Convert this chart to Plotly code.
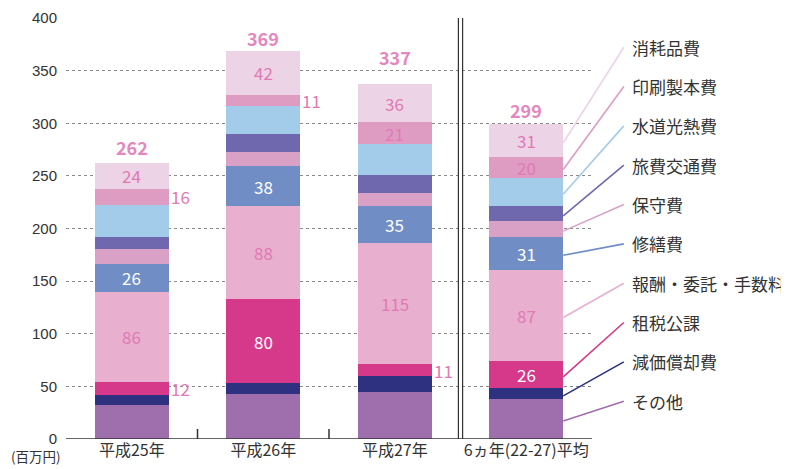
import plotly.graph_objects as go

categories = ["平成25年", "平成26年", "平成27年", "6ヵ年(22-27)平均"]
series_names = ["その他", "減価償却費", "租税公課", "報酬・委託・手数料", "修繕費",
                "保守費", "旅費交通費", "水道光熱費", "印刷製本費", "消耗品費"]
sonota = [32, 43, 45, 38]
genka = [10, 10, 15, 10]
sozei = [12, 80, 11, 26]
hoshu_itaku = [86, 88, 115, 87]
shuzen = [26, 38, 35, 31]
hoshu = [15, 14, 13, 15]
ryohi = [11, 17, 17, 14]
suido = [30, 26, 29, 27]
insatsu = [16, 11, 21, 20]
shomo = [24, 42, 36, 31]
totals = [262, 369, 337, 299]
y_ticks = [0, 50, 100, 150, 200, 250, 300, 350, 400]
unit_label = "(百万円)"

series_values = [sonota, genka, sozei, hoshu_itaku, shuzen, hoshu, ryohi, suido, insatsu, shomo]
colors = ["#9F6EAC", "#2E3180", "#D6398A", "#E8AFCF", "#718DC5",
          "#D9A1C6", "#7068AE", "#A3CBEA", "#DE9CC3", "#EDD3E6"]
label_color = {2: "white", 3: "#E07AB4", 4: "white", 8: "#E07AB4", 9: "#E07AB4"}
PINK = "#E07AB4"
TOTAL_PINK = "#E388BE"
JP = "Noto Sans CJK JP"

xs = list(range(len(categories)))
BW = 0.5625
X_MIN, X_MAX = -0.5, 3.5
Y_MAX = 400

fig = go.Figure()
for name, vals, col in zip(series_names, series_values, colors):
    fig.add_trace(go.Bar(x=xs, y=vals, name=name, marker=dict(color=col, line=dict(width=0)),
                         width=BW, showlegend=False))

annotations = []
shapes = []
bases = [[0] * len(xs)]
for vals in series_values:
    prev = bases[-1]
    bases.append([p + v for p, v in zip(prev, vals)])

for si, vals in enumerate(series_values):
    if si not in label_color:
        continue
    for i, v in enumerate(vals):
        mid = bases[si][i] + v / 2
        if v < 18:
            annotations.append(dict(x=i + BW / 2, y=mid, text=str(v), showarrow=False,
                                    xanchor="left", yanchor="middle", xshift=0,
                                    font=dict(family=JP, size=17, color=PINK)))
        else:
            annotations.append(dict(x=i, y=mid, text=str(v), showarrow=False,
                                    xanchor="center", yanchor="middle",
                                    font=dict(family=JP, size=17, color=label_color[si])))

total_shift = [16, 13, 27, 14]
for i, t in enumerate(totals):
    annotations.append(dict(x=i, y=t, text="<b>%d</b>" % t, showarrow=False,
                            xanchor="center", yanchor="middle", yshift=total_shift[i],
                            font=dict(family=JP, size=18, color=TOTAL_PINK)))


def px(xd):
    return (xd - X_MIN) / (X_MAX - X_MIN)


last = len(xs) - 1
leg_top = 0.9305
leg_step = 0.0934
for k, si in enumerate(reversed(range(len(series_names)))):
    ly = leg_top - k * leg_step
    annotations.append(dict(xref="paper", yref="paper", x=1.072, y=ly,
                            text=series_names[si], showarrow=False,
                            xanchor="left", yanchor="middle",
                            font=dict(family=JP, size=17, color="#333333")))
    mid = (bases[si][last] + series_values[si][last] / 2 - 2) / Y_MAX
    shapes.append(dict(type="line", xref="paper", yref="paper", x0=px(last + BW / 2), y0=mid,
                       x1=1.0605, y1=ly, line=dict(color=colors[si], width=1.6)))

annotations.append(dict(xref="paper", yref="paper", x=-0.057, y=0, yshift=-17,
                        text=unit_label, showarrow=False, xanchor="center", yanchor="middle",
                        font=dict(family=JP, size=13.5, color="#333333")))

for b in [0.5, 1.5]:
    shapes.append(dict(type="line", xref="x", yref="y", x0=b, x1=b, y0=0, y1=9.5,
                       line=dict(color="#333333", width=1.5)))
for dx in [-0.016, 0.016]:
    shapes.append(dict(type="line", xref="x", yref="y", x0=2.5 + dx, x1=2.5 + dx, y0=0, y1=403,
                       line=dict(color="#333333", width=1.2)))
shapes.append(dict(type="line", xref="x", yref="y", x0=X_MIN, x1=X_MAX, y0=0, y1=0,
                   line=dict(color="#333333", width=1.6)))

# the page adds an 8px body margin, so the plot area is offset to compensate
fig.update_layout(
    barmode="stack",
    width=789, height=469,
    margin=dict(l=58, r=205, t=10, b=38, autoexpand=False),
    paper_bgcolor="white", plot_bgcolor="white",
    annotations=annotations, shapes=shapes,
    font=dict(family=JP, color="#333333"),
    bargap=0,
)
fig.update_xaxes(range=[X_MIN, X_MAX], tickvals=xs, ticktext=categories, showgrid=False,
                 zeroline=False, showline=False, ticks="", automargin=False,
                 tickfont=dict(family=JP, size=16, color="#333333"))
fig.update_yaxes(range=[0, Y_MAX], tickvals=y_ticks, showgrid=True, gridcolor="#8a8a8a",
                 griddash="dot", gridwidth=1, zeroline=False, showline=False, ticks="",
                 ticklabelstandoff=8, automargin=False,
                 tickfont=dict(family="Liberation Sans", size=15, color="#333333"))
fig.update_traces(cliponaxis=False)

fig.write_html("out.html")
